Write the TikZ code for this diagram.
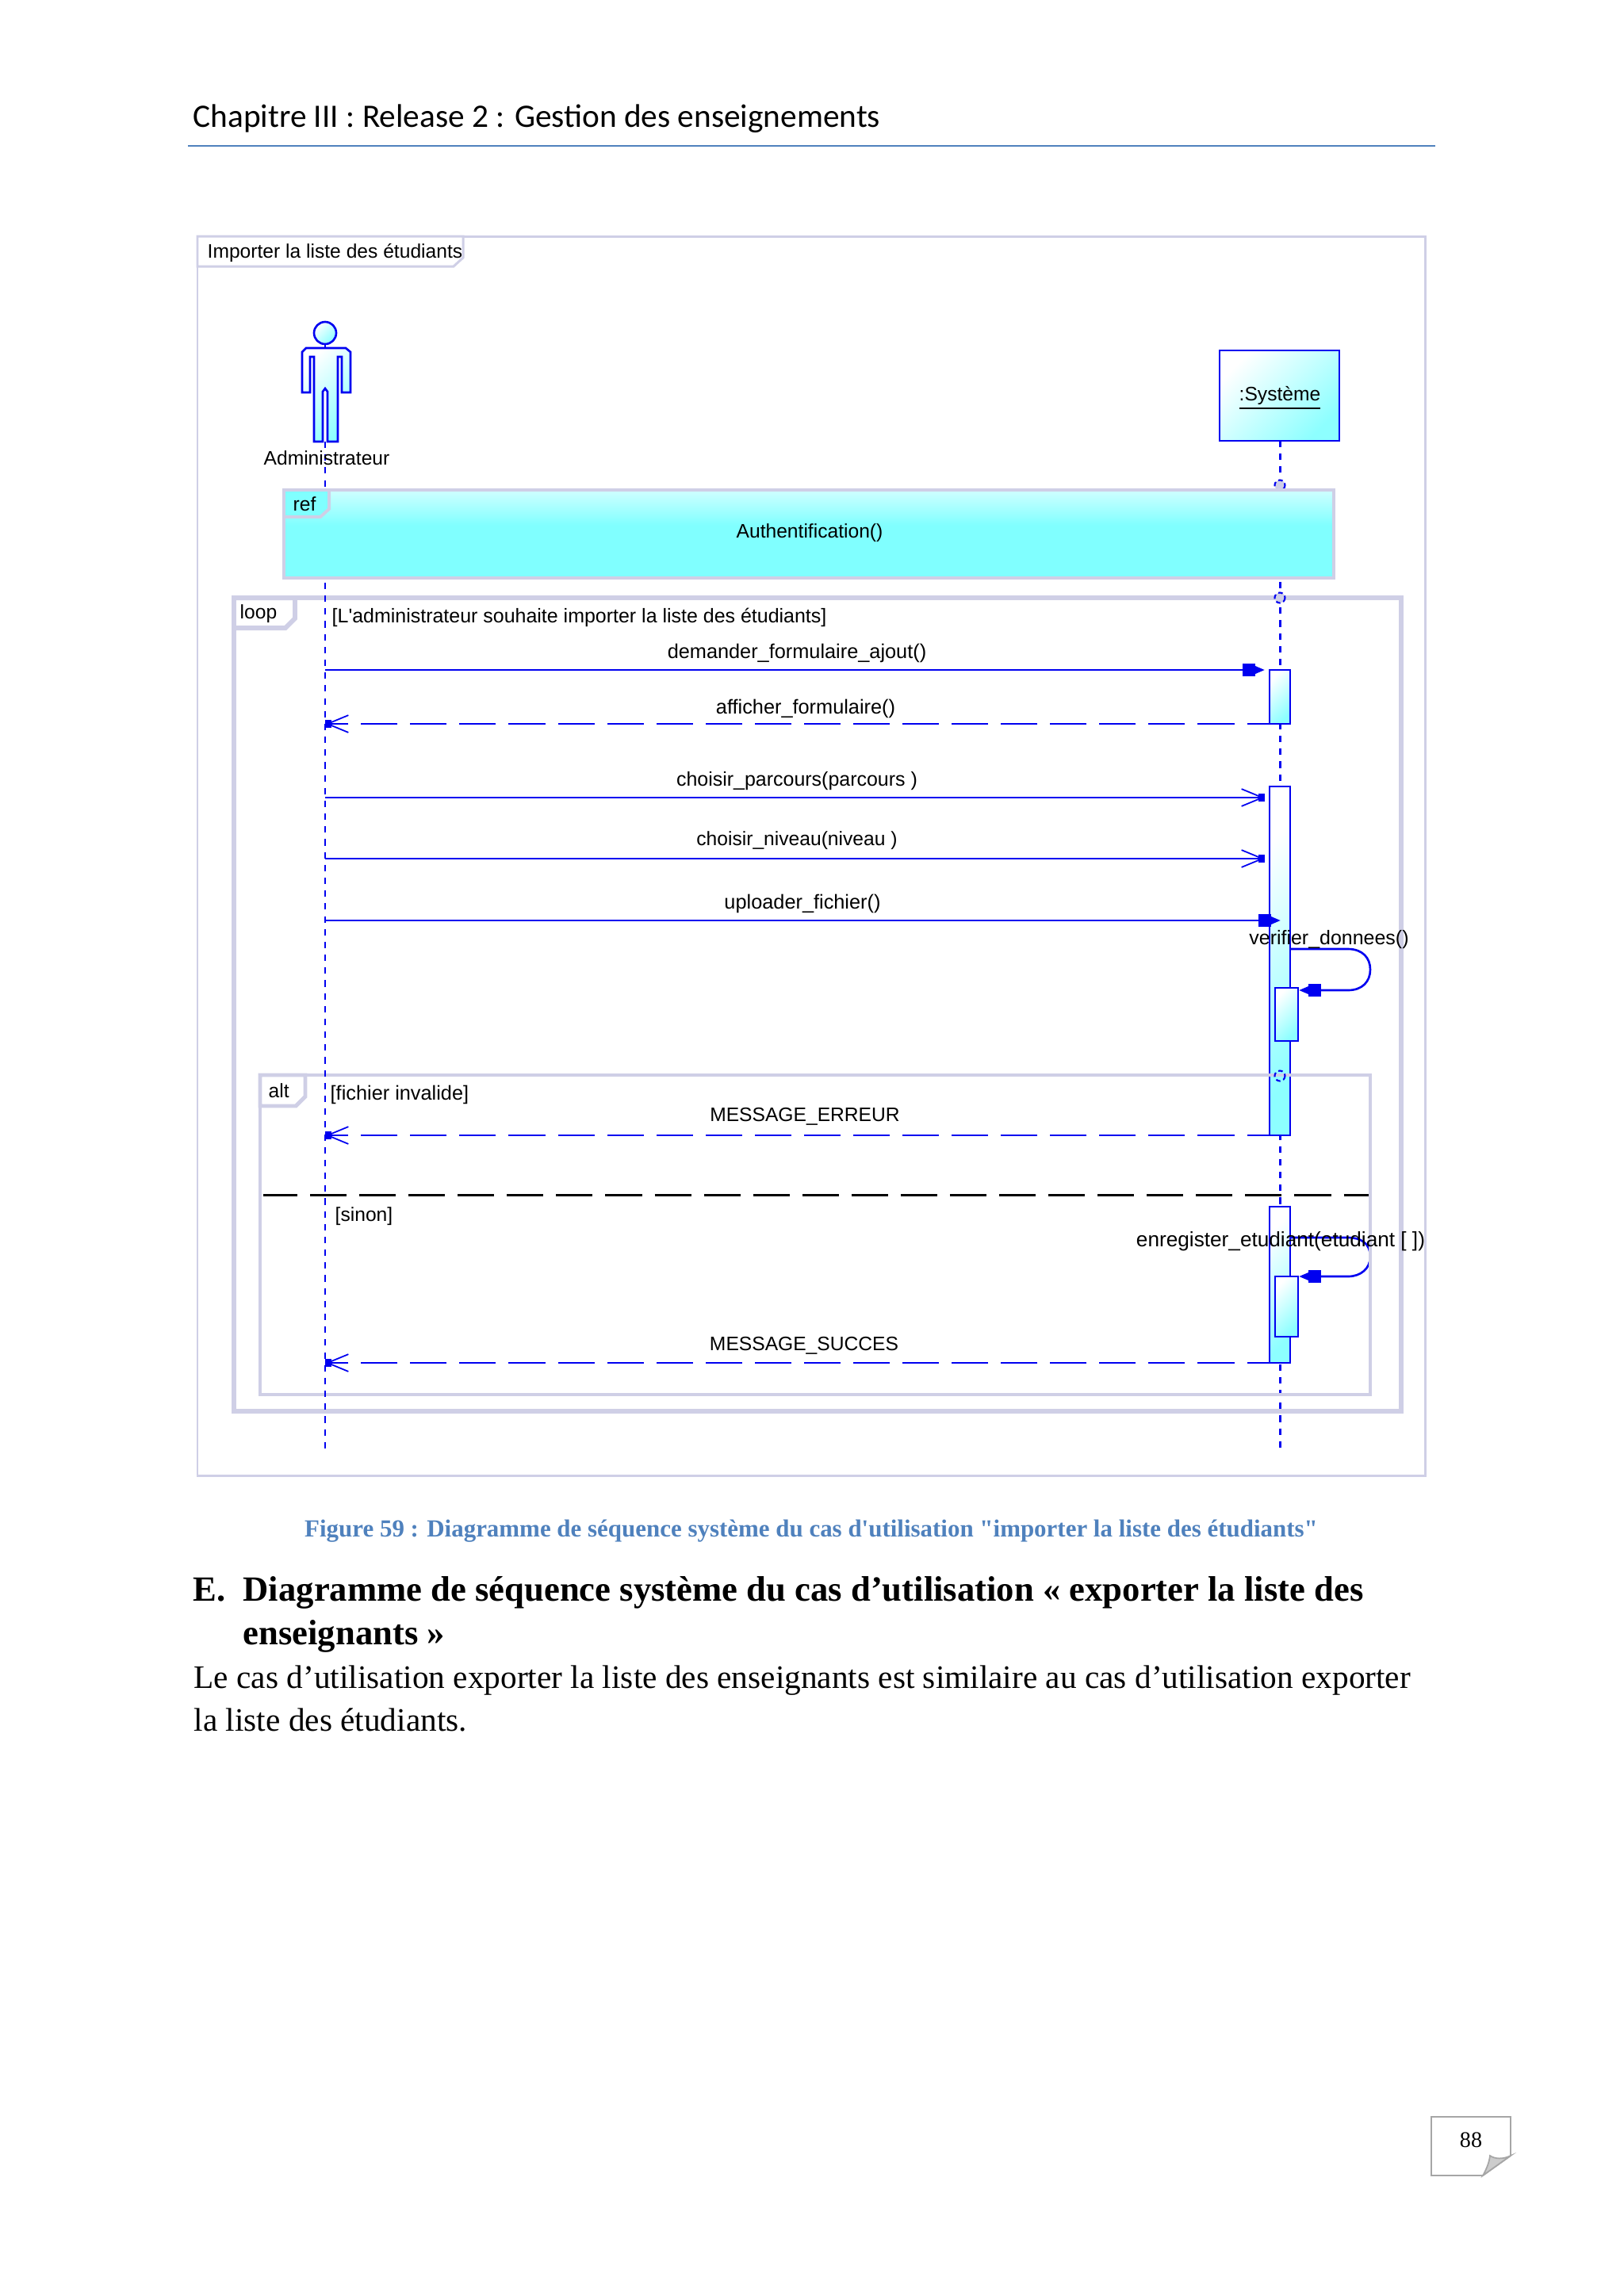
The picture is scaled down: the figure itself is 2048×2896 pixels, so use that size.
\documentclass[tikz,border=0pt]{standalone}
\usepackage{fontspec}
\setmainfont{Liberation Serif}
\newfontfamily\umlfont{Liberation Sans}
\newfontfamily\capfont{Liberation Serif}
\newfontfamily\headfont{Carlito}
\usetikzlibrary{arrows.meta}
\definecolor{umlblue}{HTML}{0000F0}
\definecolor{framegray}{HTML}{CFCFE6}
\definecolor{umlcyan}{HTML}{80FFFF}
\definecolor{umlpale}{HTML}{F2FFFF}
\definecolor{wordblue}{HTML}{4F81BD}
\pgfdeclareverticalshading{refshade}{100bp}{color(0bp)=(umlcyan); color(55bp)=(umlcyan); color(75bp)=(umlpale!70!umlcyan); color(100bp)=(umlpale!70!umlcyan)}
\tikzset{
  lifeline/.style={draw=umlblue, line width=0.85pt, dash pattern=on 2.3pt off 2.3pt},
  activbar/.style={draw=umlblue, line width=0.75pt, left color=white, right color=umlcyan!90!white, shading angle=45},
  synccall/.style={draw=umlblue, line width=0.75pt, -{Rectangle[length=4.6pt,width=4.6pt,sep=0pt]Triangle[length=3.4pt,width=2.6pt]}},
  opencall/.style={draw=umlblue, line width=0.75pt, -{Straight Barb[length=7.5pt,width=6.2pt,line width=0.5pt,sep=-2pt]Rectangle[length=2.2pt,width=2.6pt]}},
  replycall/.style={opencall, dash pattern=on 13.1pt off 4.55pt, dash phase=5pt},
  altline/.style={draw=black, line width=0.85pt, dash pattern=on 13.1pt off 4.55pt, dash phase=0.85pt},
  fragment/.style={draw=framegray, line width=#1},
  gate/.style={draw=umlblue, line width=0.6pt, dash pattern=on 1.6pt off 1.1pt},
  lbl/.style={font=\umlfont\fontsize{#1}{8}\selectfont, inner sep=0pt},
  lbl/.default=7,
}
\begin{document}
\begin{tikzpicture}[x=0.01cm, y=-0.01cm, >=stealth]
  \useasboundingbox[fill=white] (0,0) rectangle (2048,2896);
  \coordinate (AT) at (410,557);
  \coordinate (AB) at (410,1828);
  \coordinate (ST) at (1614,556);
  \coordinate (SB) at (1614,1828);
  \coordinate (A1) at (410,845);
  \coordinate (S1) at (1595,845);
  \coordinate (A2) at (410,913);
  \coordinate (S2) at (1601,913);
  \coordinate (A3) at (410,1006);
  \coordinate (S3) at (1595,1006);
  \coordinate (A4) at (410,1083);
  \coordinate (S4) at (1595,1083);
  \coordinate (A5) at (410,1161);
  \coordinate (S5) at (1615,1161);
  \coordinate (A6) at (410,1432);
  \coordinate (S6) at (1601,1432);
  \coordinate (A7) at (410,1719);
  \coordinate (S7) at (1601,1719);
  \coordinate (V1) at (1627,1197);
  \coordinate (V2) at (1638,1249);
  \coordinate (E1) at (1627,1561);
  \coordinate (E2) at (1638,1610);
  % page furniture
  \node[font=\headfont\fontsize{11.75}{15}\selectfont, anchor=base west, inner sep=0pt] (title) at (243,160) {Chapitre III : Release 2 : Gestion des enseignements};
  \draw[wordblue, line width=0.55pt] (237,184) -- (1810,184);
  % lifelines and bars
  \draw[lifeline] (ST) -- (SB);
  \draw[activbar] (1601,845) rectangle (1627,913);
  \draw[activbar] (1601,992) rectangle (1627,1432);
  \draw[activbar] (1601,1522) rectangle (1627,1719);
  \draw[activbar] (1608,1246) rectangle (1637,1313);
  \draw[activbar] (1608,1610) rectangle (1637,1686);
  % messages
  \draw[synccall] (A1) -- (S1);
  \draw[replycall] (S2) -- (A2);
  \draw[opencall] (A3) -- (S3);
  \draw[opencall] (A4) -- (S4);
  \draw[synccall] (A5) -- (S5);
  \draw[synccall] (V1) -- (1700,1197) .. controls (1718,1197) and (1728,1208) .. (1728,1223) .. controls (1728,1238) and (1718,1249) .. (1700,1249) -- (V2);
  \draw[synccall] (E1) -- (1700,1561) .. controls (1716,1561) and (1728,1568) .. (1728,1585) .. controls (1728,1600) and (1716,1610) .. (1700,1610) -- (E2);
  \draw[replycall] (S6) -- (A6);
  \draw[replycall] (S7) -- (A7);
  % frames
  \draw[fragment=0.85pt] (249,298) rectangle (1797,1861);
  \draw[fragment=0.85pt, fill=white] (249,298) -- (584,298) -- (584,325) -- (572,336) -- (249,336) -- cycle;
  \draw[fragment=1.7pt] (295,754) rectangle (1767,1780);
  \draw[fragment=1.7pt, fill=white] (295,754) -- (372,754) -- (372,780) -- (360,792) -- (295,792) -- cycle;
  \draw[fragment=1.4pt] (328,1356) rectangle (1728,1759);
  \draw[fragment=1.4pt, fill=white] (328,1356) -- (385,1356) -- (385,1383) -- (373,1395) -- (328,1395) -- cycle;
  \draw[altline] (332,1507) -- (1726,1507);
  \draw[lifeline] (AT) -- (AB);
  % gates
  \draw[gate, fill=framegray] (1614,612) circle [radius=6.5];
  \draw[gate, fill=framegray] (1614,754) circle [radius=6.5];
  \draw[gate] (1614,1357) circle [radius=6.5];
  % ref block
  \path[shading=refshade] (358,618) rectangle (1682,729);
  \draw[fragment=1.1pt] (358,618) rectangle (1682,729);
  \draw[fragment=1.1pt, fill=umlcyan] (358,618) -- (415,618) -- (415,642) -- (404,652) -- (358,652) -- cycle;
  % actor
  \draw[activbar] (410,420) circle [radius=14];
  \draw[activbar] (381,495) -- (381,444) -- (386,439) -- (436,439) -- (442,444) -- (442,495) -- (431,495) -- (431,450) -- (426,450) -- (426,557) -- (413,557) -- (413,494) -- (410,490) -- (407,494) -- (407,557) -- (396,557) -- (396,450) -- (391,450) -- (391,495) -- cycle;
  \draw[umlblue, line width=0.75pt] (410,434) -- (410,439);
  \draw[umlblue, line width=0.75pt] (410,557) -- (410,563);
  % system box
  \draw[activbar] (1538,442) rectangle (1689,556);
  \node[lbl] (sys) at (1614,502) {\underline{:Système}};
  \node[lbl] (admin) at (412,578) {Administrateur};
  % labels
  \node[lbl, anchor=west] (frametitle) at (261,319) {Importer la liste des étudiants};
  \node[lbl] (refkw) at (384,636) {ref};
  \node[lbl] (auth) at (1021,672) {Authentification()};
  \node[lbl, anchor=west] (loopkw) at (302,774) {loop};
  \node[lbl=7.1, anchor=west] (loopcond) at (418,779) {[L'administrateur souhaite importer la liste des étudiants]};
  \node[lbl=7.2] (m1) at (1005,824) {demander\_formulaire\_ajout()};
  \node[lbl=7.2] (m2) at (1016,894) {afficher\_formulaire()};
  \node[lbl=7.1] (m3) at (1005,985) {choisir\_parcours(parcours )};
  \node[lbl] (m4) at (1005,1060) {choisir\_niveau(niveau )};
  \node[lbl=7.2] (m5) at (1012,1140) {uploader\_fichier()};
  \node[lbl=7.1] (m6) at (1676,1185) {verifier\_donnees()};
  \node[lbl, anchor=west] (altkw) at (338,1376) {alt};
  \node[lbl=7.2, anchor=west] (altcond) at (416,1381) {[fichier invalide]};
  \node[lbl] (m7) at (1015,1408) {MESSAGE\_ERREUR};
  \node[lbl, anchor=west] (altelse) at (422,1534) {[sinon]};
  \node[lbl=7.45] (m8) at (1615,1566) {enregister\_etudiant(etudiant [ ])};
  \node[lbl] (m9) at (1014,1697) {MESSAGE\_SUCCES};
  % page text
  \node[font=\capfont\bfseries\fontsize{8.8}{10}\selectfont, text=wordblue, inner sep=0pt] (caption) at (1023,1931) {Figure 59 : Diagramme de séquence système du cas d'utilisation "importer la liste des étudiants"};
  \node[font=\bfseries\fontsize{12.7}{14}\selectfont, anchor=base west, inner sep=0pt] (seclabel) at (243,2019) {E.};
  \node[font=\bfseries\fontsize{12.7}{14}\selectfont, anchor=base west, inner sep=0pt] (secline1) at (306,2019) {Diagramme de séquence système du cas d’utilisation « exporter la liste des};
  \node[font=\bfseries\fontsize{12.7}{14}\selectfont, anchor=base west, inner sep=0pt] (secline2) at (306,2074) {enseignants »};
  \node[font=\fontsize{11.75}{13}\selectfont, anchor=base west, inner sep=0pt] (bodyline1) at (244,2129) {Le cas d’utilisation exporter la liste des enseignants est similaire au cas d’utilisation exporter};
  \node[font=\fontsize{11.75}{13}\selectfont, anchor=base west, inner sep=0pt] (bodyline2) at (244,2183) {la liste des étudiants.};
  % page number
  \draw[gray!70, line width=0.5pt] (1805,2670) -- (1905,2670) -- (1905,2719) -- (1870,2744) -- (1805,2744) -- cycle;
  \draw[gray!70, fill=gray!40, line width=0.5pt] (1905,2719) .. controls (1895,2724) and (1885,2723) .. (1879,2719) .. controls (1878,2728) and (1874,2737) .. (1870,2744) -- cycle;
  \node[font=\fontsize{8}{9}\selectfont, inner sep=0pt] (pagenum) at (1855,2699) {88};
\end{tikzpicture}
\end{document}
